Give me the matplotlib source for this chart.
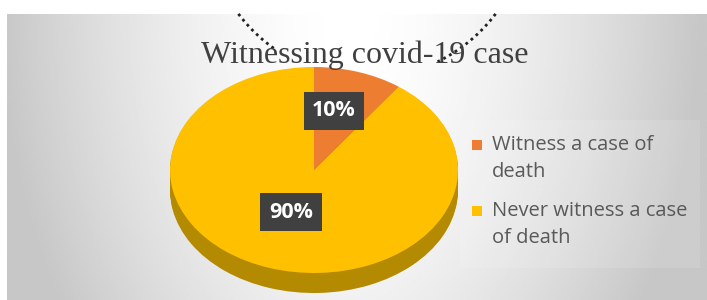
import numpy as np
import matplotlib
matplotlib.use('Agg')
import matplotlib.pyplot as plt

labels = ['Witness a case of\ndeath', 'Never witness a case\nof death']
values = [10, 90]
pct_text = ['10%', '90%']
colors = ['#ED7D31', '#FFC000']
side_colors = ['#b5591a', '#b38a00']

W, H = 707, 300
fig = plt.figure(figsize=(W / 100, H / 100), dpi=100)

# background gradient (full figure, pixel coords)
bg = fig.add_axes([0, 0, 1, 1])
bg.set_xlim(0, W)
bg.set_ylim(H, 0)
bg.axis('off')
xx = np.linspace(-1, 1, 400)
yy = np.linspace(-1, 1, 200)
X, Y = np.meshgrid(xx, yy)
grad = 1 - 0.22 * np.clip(np.abs(X + 0.02) ** 1.6 + 0.25 * (Y + 1) ** 2 / 4, 0, 1)
bg.imshow(grad, cmap='gray', vmin=0, vmax=1, extent=[7, W, H, 14], aspect='auto', zorder=0)
bg.add_patch(plt.Rectangle((460, 120), 240, 148, color='white', alpha=0.12, lw=0, zorder=1))
bg.set_zorder(0)

# pie axes: top face 170..458 x 67..273, side drops 20px
pie_ax = fig.add_axes([170 / W, 1 - 293 / H, 288 / W, 226 / H])
for k in np.linspace(20 / 103, 0.01, 12):
    pie_ax.pie(values, colors=side_colors, startangle=90, counterclock=False,
               center=(0, -k), radius=1, frame=True)
pie_ax.pie(values, colors=colors, startangle=90, counterclock=False,
           center=(0, 0), radius=1, frame=True)
pie_ax.set_aspect('auto')
pie_ax.set_xlim(-1, 1)
pie_ax.set_ylim(-1 - 20 / 103, 1)
pie_ax.axis('off')
pie_ax.set_zorder(1)

over = fig.add_axes([0, 0, 1, 1], facecolor='none')
over.set_xlim(0, W)
over.set_ylim(H, 0)
over.axis('off')
over.set_zorder(2)
for txt, (x, y) in zip(pct_text, [(334, 111), (291, 212)]):
    over.text(x, y, txt, ha='center', va='center', color='white', fontsize=15.5,
              fontweight='bold', family='Open Sans',
              bbox=dict(boxstyle='square,pad=0.4', fc='#404040', ec='none'))

# dotted arc scribble behind the title
for a0, a1 in [(143, 125), (37, 64)]:
    th = np.radians(np.linspace(a0, a1, 30))
    over.plot(367 + 161 * np.cos(th), -83 + 161 * np.sin(th), color='#222222',
              lw=2, ls=(0, (1, 1.4)))

over.text(365, 63, 'Witnessing covid-19 case', ha='center', va='baseline',
          fontsize=23, family='Liberation Serif', color='#404040')

# legend, square next to first line of each label
for lab, c, y in zip(labels, colors, [145, 211]):
    over.add_patch(plt.Rectangle((472, y - 5), 10, 10, color=c, lw=0))
    first, second = lab.split('\n')
    over.text(492, y, first, ha='left', va='center', fontsize=14.5,
              family='Open Sans', color='#595959')
    over.text(492, y + 27, second, ha='left', va='center', fontsize=14.5,
              family='Open Sans', color='#595959')

fig.savefig('out.png', dpi=100)
